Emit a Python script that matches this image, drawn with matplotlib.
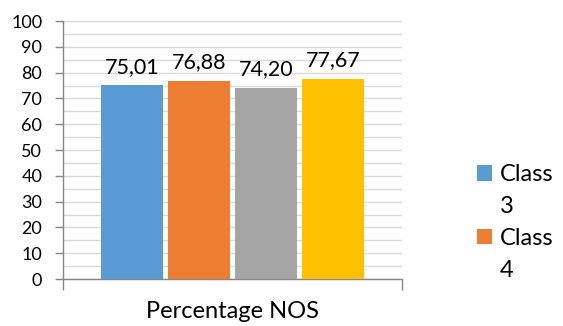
import matplotlib
matplotlib.use("Agg")
import matplotlib.pyplot as plt
from matplotlib.ticker import MultipleLocator
from matplotlib.patches import Rectangle

series = ["Class 3", "Class 4", "Class 5", "Class 6"]
values = [75.01, 76.88, 74.20, 77.67]
labels = ["75,01", "76,88", "74,20", "77,67"]
colors = ["#5B9BD5", "#ED7D31", "#A5A5A5", "#FFC000"]
category = "Percentage NOS"
legend_shown = 2  # legend is truncated in the original: only the first two series fit

plt.rcParams['font.family'] = ['Lato', 'DejaVu Sans']

fig = plt.figure(figsize=(5.63, 3.26), dpi=100)
ax = fig.add_axes([63/563, 1 - 279/326, (402 - 63)/563, (279 - 21)/326])

bw = 0.183
step = 0.198
handles = []
for i, (s, v, c, lab) in enumerate(zip(series, values, colors, labels)):
    x = 1 + (i - 1.5) * step
    b = ax.bar(x, v, width=bw, color=c, label=s, zorder=3)
    handles.append(b)
    ax.annotate(lab, (x, v), xytext=(0, 9), textcoords="offset points",
                ha="center", va="baseline", fontsize=15.5, color="#000000")

ax.set_xlim(0.5, 1.5)
ax.set_ylim(0, 100)
ax.yaxis.set_major_locator(MultipleLocator(10))
ax.yaxis.set_minor_locator(MultipleLocator(5))
ax.grid(axis="y", which="both", color="#D9D9D9", linewidth=1, zorder=0)
ax.set_xticks([0.5, 1.5])
ax.set_xticklabels(["", ""])
ax.tick_params(axis="x", length=8, color="#868686", width=1)
ax.tick_params(axis="y", which="major", length=6, color="#868686", width=1, labelsize=13, pad=9)
ax.tick_params(axis="y", which="minor", length=0)
for s in ["top", "right"]:
    ax.spines[s].set_visible(False)
for s in ["left", "bottom"]:
    ax.spines[s].set_color("#868686")
    ax.spines[s].set_linewidth(1)
ax.text(0.5, (279 - 318) / 258, category, transform=ax.transAxes,
        ha="center", va="baseline", fontsize=17)

# wrapped legend entries: "Class" next to the swatch, number on its own line
leg_handles, leg_labels = [], []
for h, s in zip(handles[:legend_shown], series[:legend_shown]):
    first, second = s.split(" ", 1)
    leg_handles += [h, Rectangle((0, 0), 1, 1, alpha=0)]
    leg_labels += [first, second]

leg = fig.legend(handles=leg_handles, labels=leg_labels,
                 loc="upper left", bbox_to_anchor=(477/563, 1 - 164/326),
                 frameon=False, fontsize=17, handlelength=0.65, handleheight=0.65,
                 handletextpad=0.3, labelspacing=0.46, borderpad=0, borderaxespad=0)
fig.savefig("out.png", dpi=100)
